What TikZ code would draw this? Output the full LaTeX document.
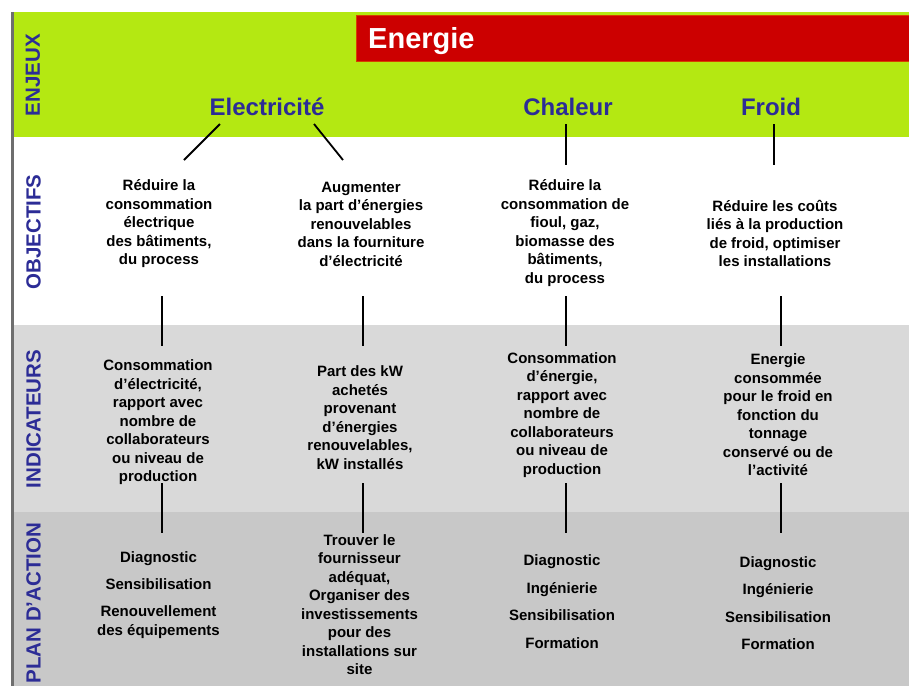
\documentclass[tikz,border=0pt]{standalone}
\usepackage{fontspec}
\setmainfont{Liberation Sans}

\definecolor{enjeuvert}{RGB}{180,232,18}
\definecolor{energierouge}{RGB}{204,0,0}
\definecolor{bordrouge}{RGB}{214,64,0}
\definecolor{titrebleu}{RGB}{44,44,150}
\definecolor{grisclair}{RGB}{217,217,217}
\definecolor{grisfonce}{RGB}{200,200,200}
\definecolor{bordgris}{RGB}{110,110,110}

\tikzset{
	rubrique/.style={rotate=90, inner sep=0pt, text=titrebleu, font=\fontsize{20.5}{24}\selectfont\bfseries},
	domaine/.style={anchor=base, inner sep=0pt, text=titrebleu, font=\fontsize{24}{28}\selectfont\bfseries},
	texte/.style={align=center, inner sep=0pt, font=\fontsize{15}{18.5}\selectfont\bfseries},
	lien/.style={black, line width=1.8pt},
}

\begin{document}
\begin{tikzpicture}[x=1pt,y=-1pt]

	\useasboundingbox (0,0) rectangle (909,686);

	% bandes
	\fill[enjeuvert] (14,12) rectangle (909,137);
	\fill[white] (14,137) rectangle (909,325);
	\fill[grisclair] (14,325) rectangle (909,512);
	\fill[grisfonce] (14,512) rectangle (909,686);
	\draw[bordgris, line width=2.5pt] (12.5,12) -- (12.5,686);

	\filldraw[fill=energierouge, draw=bordrouge, line width=0.8pt] (356,15) rectangle (912,61);
	\node[anchor=base west, inner sep=0pt, text=white, font=\fontsize{29}{34}\selectfont\bfseries] (energie) at (368,48) {Energie};

	\node[rubrique] (enjeux) at (33,75) {ENJEUX};
	\node[rubrique] (objectifs) at (33.5,232) {OBJECTIFS};
	\node[rubrique] (indicateurs) at (33.5,419) {INDICATEURS};
	\node[rubrique] (plan) at (33.5,603) {PLAN D’ACTION};

	\node[domaine] (elec) at (267,115) {Electricité};
	\node[domaine] (chaleur) at (568,115) {Chaleur};
	\node[domaine] (froid) at (771,115) {Froid};

	% objectifs
	\node[texte] (obj1) at (159,224) {Réduire la\\consommation\\électrique\\des bâtiments,\\du process};
	\node[texte] (obj2) at (361,224) {Augmenter\\la part d’énergies\\renouvelables\\dans la fourniture\\d’électricité};
	\node[texte] (obj3) at (565,233) {Réduire la\\consommation de\\fioul, gaz,\\biomasse des\\bâtiments,\\du process};
	\node[texte] (obj4) at (775,233.5) {Réduire les coûts\\liés à la production\\de froid, optimiser\\les installations};

	% indicateurs
	\node[texte] (ind1) at (158,422.5) {Consommation\\d’électricité,\\rapport avec\\nombre de\\collaborateurs\\ou niveau de\\production};
	\node[texte] (ind2) at (360,417.5) {Part des kW\\achetés\\provenant\\d’énergies\\renouvelables,\\kW installés};
	\node[texte] (ind3) at (562,415) {Consommation\\d’énergie,\\rapport avec\\nombre de\\collaborateurs\\ou niveau de\\production};
	\node[texte] (ind4) at (778,415) {Energie\\consommée\\pour le froid en\\fonction du\\tonnage\\conservé ou de\\l’activité};

	% plan d'action
	\node[texte] (plan1) at (158.5,595) {Diagnostic\\[8.5pt]Sensibilisation\\[8.5pt]Renouvellement\\des équipements};
	\node[texte] (plan2) at (359.5,604.5) {Trouver le\\fournisseur\\adéquat,\\Organiser des\\investissements\\pour des\\installations sur\\site};
	\node[texte] (plan3) at (562,601.5) {Diagnostic\\[9pt]Ingénierie\\[9pt]Sensibilisation\\[9pt]Formation};
	\node[texte] (plan4) at (778,603) {Diagnostic\\[9pt]Ingénierie\\[9pt]Sensibilisation\\[9pt]Formation};

	% extremites des liens
	\coordinate (elec-g) at (220,124);
	\coordinate (elec-d) at (314,124);
	\coordinate (chaleur-b) at (566,124);
	\coordinate (froid-b) at (774,124);
	\coordinate (obj1-h) at (184,160);
	\coordinate (obj2-h) at (343,160);
	\coordinate (obj3-h) at (566,165);
	\coordinate (obj4-h) at (774,165);
	\coordinate (obj1-b) at (162,296);
	\coordinate (obj2-b) at (363,296);
	\coordinate (obj3-b) at (566,296);
	\coordinate (obj4-b) at (781,296);
	\coordinate (ind1-h) at (162,346);
	\coordinate (ind2-h) at (363,346);
	\coordinate (ind3-h) at (566,346);
	\coordinate (ind4-h) at (781,346);
	\coordinate (ind1-b) at (162,483);
	\coordinate (ind2-b) at (363,483);
	\coordinate (ind3-b) at (566,483);
	\coordinate (ind4-b) at (781,483);
	\coordinate (plan1-h) at (162,533);
	\coordinate (plan2-h) at (363,533);
	\coordinate (plan3-h) at (566,533);
	\coordinate (plan4-h) at (781,533);

	\draw[lien] (elec-g) -- (obj1-h);
	\draw[lien] (elec-d) -- (obj2-h);
	\draw[lien] (chaleur-b) -- (obj3-h);
	\draw[lien] (froid-b) -- (obj4-h);

	\draw[lien] (obj1-b) -- (ind1-h);
	\draw[lien] (obj2-b) -- (ind2-h);
	\draw[lien] (obj3-b) -- (ind3-h);
	\draw[lien] (obj4-b) -- (ind4-h);

	\draw[lien] (ind1-b) -- (plan1-h);
	\draw[lien] (ind2-b) -- (plan2-h);
	\draw[lien] (ind3-b) -- (plan3-h);
	\draw[lien] (ind4-b) -- (plan4-h);

\end{tikzpicture}
\end{document}
